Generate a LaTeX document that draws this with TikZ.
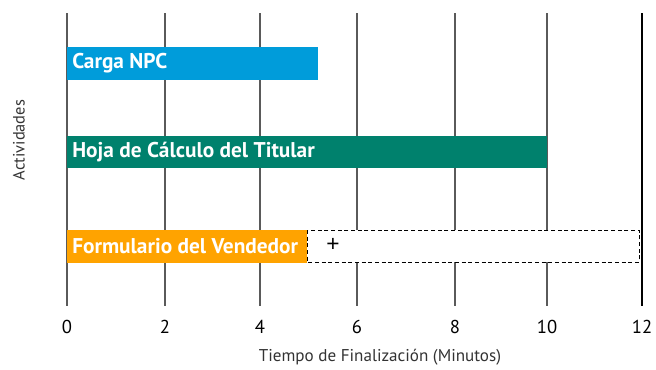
\documentclass[tikz,border=0pt]{standalone}
\usepackage{fontspec}
\setmainfont{PT Sans}
\newfontfamily\plusfont{Liberation Sans}
\definecolor{cblue}{HTML}{009CDA}
\definecolor{cteal}{HTML}{00816D}
\definecolor{corange}{HTML}{FFA300}
\definecolor{cgrid}{HTML}{5A5A5A}
\definecolor{ctext}{HTML}{333333}
\begin{document}
\begin{tikzpicture}[x=0.75pt,y=-0.75pt,
  grid/.style={draw=cgrid,line width=1pt},
  barlabel/.style={anchor=west,text=white,inner sep=0pt,font=\fontsize{16}{18}\selectfont\bfseries},
  ticklabel/.style={anchor=center,inner sep=0pt,font=\fontsize{14}{16}\selectfont},
  axistitle/.style={anchor=center,inner sep=0pt,text=ctext,font=\fontsize{12.8}{14}\selectfont}]
\useasboundingbox (0,0) rectangle (656,369);
% grid lines
\foreach \i/\x in {0/67,2/165,4/260,6/357,8/455,10/547}{
  \draw[grid] (\x,13) -- (\x,306);
}
\draw[draw=black,line width=1pt] (642,13) -- (642,306);
% bars
\fill[cblue] (67,47) rectangle (318,80);
\node[barlabel] (carga) at (72,63.5) {Carga NPC};
\fill[cteal] (67,136) rectangle (547,168);
\node[barlabel] (hoja) at (72,152) {Hoja de Cálculo del Titular};
\fill[white] (307,230) rectangle (639,262);
\draw[densely dashed,line width=0.7pt] (307,230) rectangle (639,262);
\fill[corange] (67,230) rectangle (307,263);
\node[barlabel] (form) at (72,246.5) {Formulario del Vendedor};
\node[anchor=center,inner sep=0pt,font=\plusfont\fontsize{17}{19}\selectfont] (plus) at (333,245) {+};
% tick labels
\foreach \i/\x in {0/67,2/165,4/260,6/357,8/455,10/547,12/642}{
  \node[ticklabel] (t\i) at (\x,327) {\i};
}
\node[axistitle] (xt) at (380,357) {Tiempo de Finalización (Minutos)};
\node[axistitle,rotate=90,font=\fontsize{12.3}{14}\selectfont] (yt) at (19,140) {Actividades};
\end{tikzpicture}
\end{document}
